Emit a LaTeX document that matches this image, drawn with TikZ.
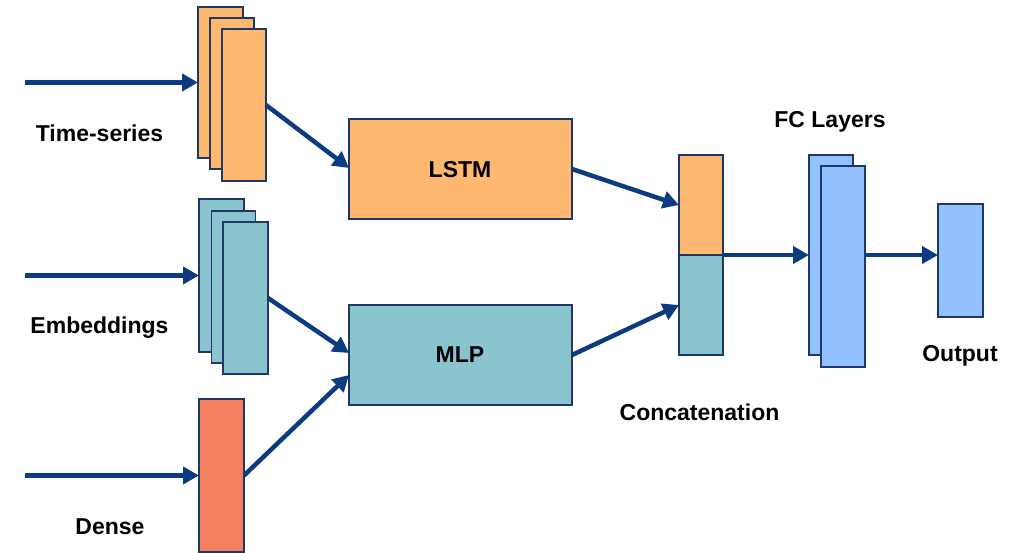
\documentclass[tikz,border=0pt]{standalone}
\usepackage{fontspec}
\setmainfont{Liberation Sans}
\usetikzlibrary{arrows.meta}
\definecolor{cOrange}{HTML}{FFB86F}
\definecolor{cTeal}{HTML}{8AC4CE}
\definecolor{cRed}{HTML}{F4805F}
\definecolor{cBlue}{HTML}{93C1FF}
\definecolor{cEdge}{HTML}{1F3864}
\definecolor{cArrow}{HTML}{0D3B82}
\tikzset{
  blk/.style={draw=cEdge, line width=1.8pt, inner sep=0pt, outer sep=0pt, rectangle},
  orangeblk/.style={blk, fill=cOrange},
  tealblk/.style={blk, fill=cTeal},
  redblk/.style={blk, fill=cRed},
  blueblk/.style={blk, fill=cBlue},
  arr/.style={draw=cArrow, line width=4.5pt, -{Triangle[length=16pt,width=17pt]}},
  lbl/.style={font=\fontsize{23}{27}\selectfont\bfseries, text=black, inner sep=0pt}
}
\begin{document}
\begin{tikzpicture}[x=1pt,y=-1pt]
\useasboundingbox (0,0) rectangle (1019,553);
% time-series stack
\node[orangeblk, minimum width=45pt, minimum height=151pt] (ts1) at (220.5,82.5) {};
\node[orangeblk, minimum width=44pt, minimum height=151pt] (ts2) at (232,93.5) {};
\node[orangeblk, minimum width=44pt, minimum height=152pt] (ts3) at (244,105) {};
% embeddings stack
\node[tealblk, minimum width=45pt, minimum height=153pt] (em1) at (221.5,275.5) {};
\node[tealblk, minimum width=44pt, minimum height=152pt] (em2) at (233.5,287) {};
\node[tealblk, minimum width=45pt, minimum height=152pt] (em3) at (245.5,298) {};
% dense
\node[redblk, minimum width=45pt, minimum height=153pt] (de) at (221.5,475.5) {};
% LSTM / MLP
\node[orangeblk, minimum width=223pt, minimum height=100pt] (lstm) at (460.5,169) {};
\node[lbl] at (460,170) {LSTM};
\node[tealblk, minimum width=223pt, minimum height=100pt] (mlp) at (460.5,355) {};
\node[lbl] at (460,355) {MLP};
% concatenation
\node[orangeblk, minimum width=44pt, minimum height=100pt] (cA) at (701,205) {};
\node[tealblk, minimum width=44pt, minimum height=100pt] (cB) at (701,305) {};
% FC layers
\node[blueblk, minimum width=44pt, minimum height=200pt] (fc1) at (831,255) {};
\node[blueblk, minimum width=44pt, minimum height=201pt] (fc2) at (843,266.5) {};
% output
\node[blueblk, minimum width=45pt, minimum height=113pt] (out) at (960.5,260.5) {};
% labels
\node[lbl] (lts) at (99.5,133) {Time-series};
\node[lbl] (lem) at (99.5,328) {Embeddings};
\node[lbl] (lde) at (110,527) {Dense};
\node[lbl] (lcat) at (699.5,412) {Concatenation};
\node[lbl] (lfc) at (830,122) {FC Layers};
\node[lbl] (lout) at (960,356) {Output};
% input coordinates
\coordinate (in1) at (25,82.5);
\coordinate (in2) at (25,275.5);
\coordinate (in3) at (25,475.5);
% arrows
\draw[arr] (in1) -- (ts1.west);
\draw[arr] (in2) -- (em1.west);
\draw[arr] (in3) -- (de.west);
\draw[arr] (ts3.east) -- ([yshift=1pt]lstm.west);
\draw[arr] (em3.east) -- ([yshift=2pt]mlp.west);
\draw[arr] (de.east) -- ([yshift=-20pt]mlp.west);
\draw[arr] (lstm.east) -- (cA.west);
\draw[arr] (mlp.east) -- (cB.west);
\draw[arr] (cA.south east) -- (fc1.west);
\draw[arr] (fc2.east |- fc1.west) -- (out.west |- fc1.west);
\end{tikzpicture}
\end{document}
